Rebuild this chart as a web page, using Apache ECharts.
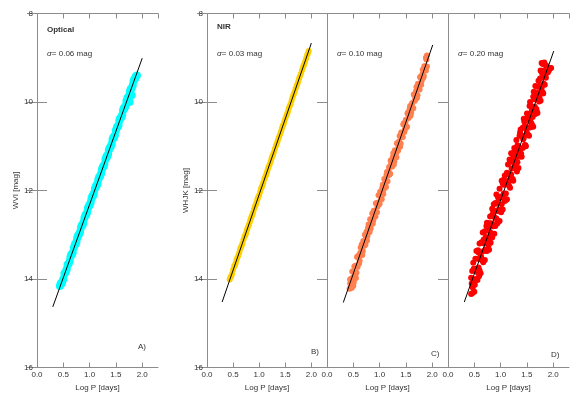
<!DOCTYPE html>
<html>
<head>
<meta charset="utf-8">
<script src="https://cdn.jsdelivr.net/npm/echarts@6/dist/echarts.min.js"></script>
<style>
  html, body { margin: 0; padding: 0; background: #fff; }
  #main { width: 582px; height: 394px; }
</style>
</head>
<body>
<div id="main"></div>
<script>
// panel A: optical Wesenheit WVI, sigma 0.06
const pointsA = [
  [0.45,14.10],[0.48,14.06],[0.52,13.88],[0.55,13.83],[0.58,13.68],[0.62,13.60],[0.65,13.45],[0.68,13.40],
  [0.72,13.22],[0.75,13.16],[0.78,13.02],[0.82,12.93],[0.85,12.79],[0.88,12.73],[0.92,12.56],[0.95,12.50],
  [0.98,12.36],[1.02,12.27],[1.05,12.13],[1.08,12.07],[1.12,11.90],[1.15,11.84],[1.18,11.70],[1.22,11.61],
  [1.25,11.47],[1.28,11.41],[1.32,11.23],[1.35,11.18],[1.38,11.04],[1.42,10.95],[1.45,10.80],[1.48,10.75],
  [1.52,10.57],[1.55,10.52],[1.58,10.37],[1.62,10.29],[1.65,10.14],[1.68,10.09],[1.72,9.91],[1.75,9.86],
  [1.78,9.71],[1.82,9.62],[1.85,9.48],[1.88,9.42],[1.80,9.85],[1.76,10.00],
  [0.435,14.16],[0.465,14.11],[0.50,14.00],[0.535,13.86],[0.565,13.78],[0.60,13.66],[0.635,13.50],[0.665,13.44],
  [0.70,13.29],[0.735,13.21],[0.765,13.07],[0.80,12.99],[0.835,12.84],[0.865,12.78],[0.90,12.62],[0.935,12.55],
  [0.965,12.41],[1.00,12.33],[1.035,12.18],[1.065,12.12],[1.10,11.96],[1.135,11.89],[1.165,11.75],[1.20,11.67],
  [1.235,11.52],[1.265,11.46],[1.30,11.30],[1.335,11.23],[1.365,11.09],[1.40,11.01],[1.435,10.85],[1.465,10.80],
  [1.50,10.64],[1.535,10.56],[1.565,10.42],[1.60,10.35],[1.635,10.19],[1.665,10.14],[1.70,9.98],[1.735,9.90],
  [1.765,9.76],[1.80,9.69],[1.835,9.53],[1.865,9.47],[1.90,9.40]
];
const fitA = [[0.30,14.63],[2.00,9.01]];

// panel B: NIR WHJK, sigma 0.03
const pointsB = [
  [0.45,13.96],[0.48,13.88],[0.52,13.72],[0.55,13.64],[0.58,13.52],[0.62,13.40],[0.65,13.28],[0.68,13.19],
  [0.72,13.04],[0.75,12.96],[0.78,12.84],[0.82,12.71],[0.85,12.60],[0.88,12.51],[0.92,12.36],[0.95,12.27],
  [0.98,12.15],[1.02,12.03],[1.05,11.92],[1.08,11.82],[1.12,11.68],[1.15,11.58],[1.18,11.47],[1.22,11.35],
  [1.25,11.23],[1.28,11.14],[1.32,10.99],[1.35,10.90],[1.38,10.79],[1.42,10.66],[1.45,10.55],[1.48,10.45],
  [1.52,10.31],[1.55,10.22],[1.58,10.10],[1.62,9.98],[1.65,9.86],[1.68,9.77],[1.72,9.63],[1.75,9.53],
  [1.78,9.42],[1.82,9.29],[1.85,9.18],[1.88,9.09],[1.92,8.94],[1.95,8.85],
  [0.435,14.01],[0.465,13.93],[0.50,13.79],[0.535,13.69],[0.565,13.57],[0.60,13.47],[0.635,13.33],[0.665,13.25],
  [0.70,13.11],[0.735,13.01],[0.765,12.89],[0.80,12.78],[0.835,12.65],[0.865,12.56],[0.90,12.43],[0.935,12.32],
  [0.965,12.20],[1.00,12.10],[1.035,11.96],[1.065,11.88],[1.10,11.74],[1.135,11.64],[1.165,11.52],[1.20,11.41],
  [1.235,11.28],[1.265,11.19],[1.30,11.06],[1.335,10.95],[1.365,10.84],[1.40,10.73],[1.435,10.60],[1.465,10.51],
  [1.50,10.38],[1.535,10.27],[1.565,10.15],[1.60,10.05],[1.635,9.91],[1.665,9.82],[1.70,9.69],[1.735,9.58],
  [1.765,9.47],[1.80,9.36],[1.835,9.23],[1.865,9.14],[1.90,9.01],[1.935,8.90]
];
const fitB = [[0.29,14.52],[2.00,8.67]];

// panel C: NIR, sigma 0.10
const pointsC = [
  [0.43,14.22],[0.45,14.00],[0.46,14.17],[0.48,13.83],[0.50,13.96],[0.52,13.72],[0.53,13.92],[0.55,13.71],
  [0.57,13.50],[0.58,13.73],[0.60,13.48],[0.62,13.58],[0.64,13.29],[0.65,13.42],[0.67,13.46],[0.69,13.14],
  [0.71,13.25],[0.72,13.00],[0.74,13.09],[0.76,13.13],[0.78,12.85],[0.80,12.92],[0.82,12.65],[0.83,12.86],
  [0.85,12.65],[0.87,12.75],[0.89,12.46],[0.91,12.54],[0.93,12.29],[0.95,12.49],[0.97,12.27],[0.99,12.31],
  [1.01,12.03],[1.03,12.18],[1.05,11.94],[1.07,12.08],[1.09,11.74],[1.11,11.85],[1.13,11.65],[1.15,11.79],
  [1.17,11.56],[1.19,11.64],[1.21,11.32],[1.23,11.46],[1.25,11.25],[1.27,11.41],[1.29,11.09],[1.31,11.16],
  [1.33,10.93],[1.35,11.10],[1.37,10.89],[1.39,11.01],[1.41,10.69],[1.43,10.79],[1.45,10.51],[1.47,10.68],
  [1.49,10.46],[1.51,10.57],[1.53,10.26],[1.55,10.36],[1.57,10.16],[1.59,10.31],[1.61,10.08],[1.63,10.14],
  [1.65,9.83],[1.67,9.97],[1.69,9.76],[1.71,9.91],[1.73,9.59],[1.75,9.66],[1.77,9.44],[1.79,9.61],
  [1.81,9.38],[1.83,9.45],[1.85,9.19],[1.87,9.28],[1.89,9.04],[1.90,9.20],[1.90,8.95],[1.88,9.00],
  [0.47,14.20],[0.50,14.15],[0.55,13.98],[0.44,14.10],
  [0.44,14.01],[0.465,14.20],[0.49,13.97],[0.51,14.07],[0.54,13.70],[0.56,13.86],[0.59,13.48],[0.61,13.65],
  [0.63,13.41],[0.66,13.22],[0.68,13.37],[0.70,13.16],[0.73,13.22],[0.75,12.93],[0.77,13.03],[0.79,12.77],
  [0.81,12.94],[0.84,12.71],[0.86,12.52],[0.88,12.67],[0.90,12.46],[0.92,12.59],[0.94,12.30],[0.96,12.37],
  [0.98,12.11],[1.00,12.30],[1.02,12.10],[1.04,12.20],[1.06,11.87],[1.08,11.97],[1.10,11.76],[1.12,11.92],
  [1.14,11.58],[1.16,11.66],[1.18,11.47],[1.20,11.62],[1.22,11.39],[1.24,11.46],[1.26,11.16],[1.28,11.34],
  [1.30,11.10],[1.32,11.25],[1.34,10.94],[1.36,11.00],[1.38,10.77],[1.40,10.94],[1.42,10.73],[1.44,10.79],
  [1.46,10.48],[1.48,10.62],[1.50,10.40],[1.52,10.56],[1.54,10.24],[1.56,10.31],[1.58,10.09],[1.60,10.24],
  [1.62,10.02],[1.64,10.14],[1.66,9.85],[1.68,9.92],[1.70,9.66],[1.72,9.85],[1.74,9.65],[1.76,9.72],
  [1.78,9.43],[1.80,9.52],[1.82,9.27],[1.84,9.41],[1.86,9.20],[1.88,9.29]
];
const fitC = [[0.31,14.53],[2.01,8.71]];

// panel D: NIR, sigma 0.20
const pointsD = [
  [0.44,14.34],[0.44,13.97],[0.46,13.82],[0.46,14.32],[0.48,14.05],[0.48,13.63],[0.50,14.29],[0.50,13.81],
  [0.52,13.54],[0.52,14.00],[0.54,13.80],[0.54,13.37],[0.56,14.02],[0.56,13.54],[0.58,13.40],[0.58,13.74],
  [0.60,13.81],[0.60,13.20],[0.62,13.44],[0.62,13.87],[0.64,13.57],[0.64,13.17],[0.66,12.95],[0.66,13.57],
  [0.68,13.37],[0.68,13.11],[0.70,13.57],[0.70,12.92],[0.72,13.05],[0.72,13.35],[0.74,13.37],[0.74,12.73],
  [0.76,12.87],[0.76,13.12],[0.78,13.34],[0.78,12.74],[0.80,12.59],[0.80,12.94],[0.82,13.00],[0.82,12.74],
  [0.84,12.41],[0.84,13.06],[0.86,12.81],[0.86,12.49],[0.88,12.60],[0.88,12.98],[0.90,12.80],[0.90,12.28],
  [0.92,12.09],[0.92,12.63],[0.94,12.74],[0.94,12.30],[0.96,12.18],[0.96,12.44],[0.98,12.69],[0.98,11.96],
  [1.00,12.16],[1.00,12.44],[1.02,12.31],[1.02,11.78],[1.04,11.84],[1.04,12.43],[1.06,12.07],[1.06,11.87],
  [1.08,12.24],[1.08,11.66],[1.10,11.79],[1.10,12.07],[1.12,12.20],[1.12,11.60],[1.14,11.41],[1.14,11.86],
  [1.16,11.89],[1.16,11.64],[1.18,11.34],[1.18,11.94],[1.20,11.64],[1.20,11.16],[1.22,11.35],[1.22,11.75],
  [1.24,11.78],[1.24,11.22],[1.26,11.04],[1.26,11.48],[1.28,11.31],[1.28,11.19],[1.30,11.52],[1.30,10.86],
  [1.32,10.98],[1.32,11.36],[1.34,11.49],[1.34,11.01],[1.36,10.76],[1.36,11.17],[1.38,11.06],[1.38,10.62],
  [1.40,10.77],[1.40,11.24],[1.42,11.04],[1.42,10.58],[1.44,10.38],[1.44,10.81],[1.46,10.97],[1.46,10.54],
  [1.48,10.57],[1.48,11.00],[1.50,10.70],[1.50,10.26],[1.52,10.27],[1.52,10.74],[1.54,10.76],[1.54,10.32],
  [1.56,10.00],[1.56,10.44],[1.58,10.47],[1.58,10.09],[1.60,10.14],[1.60,10.52],[1.62,10.56],[1.62,9.88],
  [1.64,9.94],[1.64,10.21],[1.66,10.27],[1.66,9.64],[1.68,9.94],[1.68,10.16],[1.70,10.25],[1.70,9.65],
  [1.72,9.52],[1.72,9.88],[1.74,9.91],[1.74,9.64],[1.76,9.29],[1.76,9.97],[1.78,9.68],[1.78,9.33],
  [1.80,9.14],[1.80,9.78],[1.82,9.59],[1.82,9.29],[1.84,9.15],[1.84,9.61],[1.88,9.34],[1.92,9.28],
  [1.96,9.23],[1.78,9.12],[1.86,9.45],
  [0.45,14.10],[0.47,14.19],[0.49,13.77],[0.51,14.13],[0.53,13.77],[0.55,13.84],[0.57,13.35],[0.59,13.94],
  [0.61,13.40],[0.63,13.50],[0.65,13.17],[0.67,13.62],[0.69,13.20],[0.71,13.34],[0.73,12.80],[0.75,13.08],
  [0.77,13.24],[0.79,12.82],[0.81,13.18],[0.83,12.57],[0.85,12.80],[0.87,12.31],[0.89,12.79],[0.91,12.46],
  [0.93,12.74],[0.95,12.14],[0.97,12.47],[0.99,12.14],[1.01,12.49],[1.03,12.14],[1.05,11.76],[1.07,12.19],
  [1.09,11.84],[1.11,12.21],[1.13,11.61],[1.15,11.78],[1.17,11.30],[1.19,11.74],[1.21,11.50],[1.23,11.74],
  [1.25,11.14],[1.27,11.42],[1.29,11.11],[1.31,11.57],[1.33,11.07],[1.35,11.24],[1.37,10.69],[1.39,11.17],
  [1.41,10.76],[1.43,10.84],[1.45,10.44],[1.47,10.98],[1.49,10.61],[1.51,10.37],[1.53,10.58],[1.55,10.09],
  [1.57,10.57],[1.59,10.21],[1.61,10.34],[1.63,9.77],[1.65,10.11],[1.67,9.81],[1.69,10.22],[1.71,9.78],
  [1.73,9.99],[1.75,9.47],[1.77,9.76],[1.79,9.44],[1.81,9.81],[1.83,9.11],[1.85,9.41],[1.87,9.18],
  [1.90,9.33],[1.94,9.24]
];
const fitD = [[0.31,14.52],[2.01,8.85]];

const xTicks = [0.0, 0.5, 1.0, 1.5, 2.0];
const yTicks = [8, 10, 12, 14, 16];
const panelTags = ['A)', 'B)', 'C)', 'D)'];
const sigmaLabels = ['0.06', '0.03', '0.10', '0.20'];
const bandNames = ['Optical', 'NIR', '', ''];
const yNames = ['WVI [mag]', 'WHJK [mag]', '', ''];

const pointSets = [pointsA, pointsB, pointsC, pointsD];
const fits = [fitA, fitB, fitC, fitD];
const colors = ['#00FFFF', '#FFD000', '#FF7F4F', '#FF0000'];
const sizes = [8, 6, 6, 6];

const FONT = 'Liberation Sans, Arial, Helvetica, sans-serif';
const frame = '#8c8c8c';
const ink = '#333';

const panelLeft = [37, 207, 327, 448];
const panelWidth = [121, 120, 121, 121];

const grids = [], xAxes = [], yAxes = [], series = [], graphics = [];

for (let i = 0; i < 4; i++) {
  grids.push({ left: panelLeft[i], top: 13.5, width: panelWidth[i], height: 354, outerBoundsMode: 'none' });

  const xBase = {
    gridIndex: i, type: 'value', min: 0, max: 2.3, interval: 0.5,
    axisLine: { show: true, lineStyle: { color: frame, width: 1 } },
    axisTick: { show: true, inside: true, length: 5, lineStyle: { color: frame } },
    splitLine: { show: false }
  };
  xAxes.push(Object.assign({}, xBase, {
    position: 'bottom',
    name: 'Log P [days]', nameLocation: 'middle', nameGap: 11,
    nameTextStyle: { fontFamily: FONT, fontSize: 8, color: ink },
    axisLabel: {
      show: true, margin: 3, fontFamily: FONT, fontSize: 8, color: ink, showMaxLabel: false,
      formatter: v => xTicks.indexOf(v) >= 0 ? v.toFixed(1) : ''
    }
  }));
  xAxes.push(Object.assign({}, xBase, { position: 'top', axisLabel: { show: false } }));

  const yBase = {
    gridIndex: i, type: 'value', min: 8, max: 16, interval: 2, inverse: true,
    axisLine: { show: true, lineStyle: { color: frame, width: 1 } },
    axisTick: { show: true, inside: true, length: 10, lineStyle: { color: frame } },
    splitLine: { show: false }
  };
  yAxes.push(Object.assign({}, yBase, {
    position: 'left',
    axisTick: { show: i < 2, inside: true, length: 10, lineStyle: { color: frame } },
    name: yNames[i], nameLocation: 'middle', nameGap: 17, nameRotate: 90,
    nameTextStyle: { fontFamily: FONT, fontSize: 8, color: ink },
    axisLabel: {
      show: i < 2, margin: 4, fontFamily: FONT, fontSize: 8, color: ink,
      formatter: v => yTicks.indexOf(v) >= 0 ? String(v) : ''
    }
  }));
  yAxes.push(Object.assign({}, yBase, { position: 'right', axisLabel: { show: false } }));

  series.push({
    type: 'scatter', xAxisIndex: 2 * i, yAxisIndex: 2 * i,
    data: pointSets[i], symbol: 'circle', symbolSize: sizes[i],
    itemStyle: { color: colors[i], opacity: 1 }, z: 2, silent: true
  });
  series.push({
    type: 'line', xAxisIndex: 2 * i, yAxisIndex: 2 * i,
    data: fits[i], symbol: 'none',
    lineStyle: { color: '#000', width: 1 }, z: 3, silent: true
  });

  const tx = panelLeft[i] + 10;
  if (bandNames[i]) {
    graphics.push({ type: 'text', left: tx, top: i === 0 ? 26 : 23,
      style: { text: bandNames[i], font: 'bold 8px ' + FONT, fill: ink } });
  }
  graphics.push({ type: 'text', left: tx, top: 50,
    style: { text: '{i|σ}= ' + sigmaLabels[i] + ' mag', font: '8px ' + FONT, fill: ink,
      rich: { i: { fontStyle: 'italic', fontFamily: FONT, fontSize: 8, fill: ink } } } });
}

// panel tags in the lower right corners
const tagPos = [[138, 343], [311, 348], [431, 350], [551, 351]];
for (let i = 0; i < 4; i++) {
  graphics.push({ type: 'text', left: tagPos[i][0], top: tagPos[i][1],
    style: { text: panelTags[i], font: '8px ' + FONT, fill: ink } });
}

const chart = echarts.init(document.getElementById('main'), null, { renderer: 'canvas' });
chart.setOption({
  animation: false,
  backgroundColor: '#fff',
  grid: grids,
  xAxis: xAxes,
  yAxis: yAxes,
  series: series,
  graphic: graphics
});
</script>
</body>
</html>
